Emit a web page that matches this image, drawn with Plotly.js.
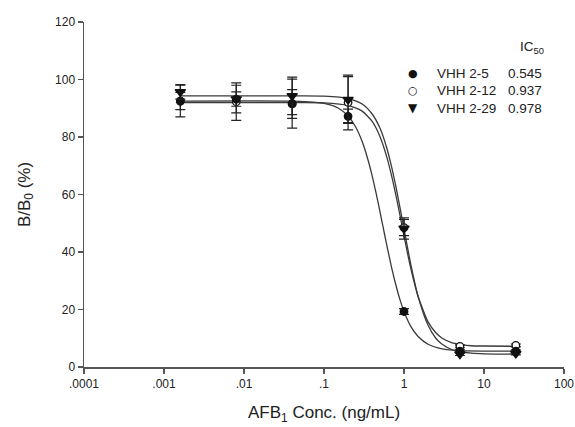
<!DOCTYPE html>
<html>
<head>
<meta charset="utf-8">
<script src="https://cdn.plot.ly/plotly-3.0.1.min.js"></script>
<style>html,body{margin:0;padding:0;background:#fff;}#chart{width:575px;height:427px;}</style>
</head>
<body>
<div id="chart"></div>
<script>
// ---- data ----
const conc = [0.0016, 0.008, 0.04, 0.2, 1, 5, 25];

const vhh25 = [92.5, 93.2, 91.5, 87.2, 19.3, 5.5, 5.5];
const vhh25Err = [3.0, 2.5, 5.0, 2.5, 1.0, 0.5, 0.5];

const vhh212 = [92.5, 92.3, 91.6, 92.0, 48.5, 7.2, 7.5];
const vhh212Err = [5.5, 6.5, 8.5, 9.5, 2.8, 0.5, 0.5];

const vhh229 = [95.7, 93.2, 94.3, 93.0, 48.2, 4.5, 4.7];
const vhh229Err = [2.5, 4.8, 6.5, 8.0, 3.7, 0.5, 0.5];

// fitted curves
const fit25X = [0.0016, 0.05, 0.1, 0.15, 0.2, 0.25, 0.3, 0.35, 0.4, 0.45, 0.5, 0.545, 0.6, 0.7, 0.8, 0.9, 1, 1.2, 1.5, 2, 3, 5, 25];
const fit25Y = [92.5, 92.4, 91.7, 90.1, 87.3, 83.4, 78.4, 72.6, 66.5, 60.2, 54.1, 49.0, 43.3, 34.6, 28.0, 23.0, 19.3, 14.4, 10.6, 7.9, 6.3, 5.7, 5.5];

const fit212X = [0.0016, 0.05, 0.1, 0.2, 0.3, 0.4, 0.5, 0.6, 0.7, 0.8, 0.9, 1, 1.2, 1.5, 2, 2.5, 3, 4, 5, 7, 10, 25];
const fit212Y = [92.0, 92.0, 91.9, 91.0, 89.0, 85.4, 80.2, 73.7, 66.5, 59.2, 52.1, 45.6, 35.0, 24.5, 15.7, 11.9, 10.0, 8.4, 7.9, 7.4, 7.3, 7.2];

const fit229X = [0.0016, 0.05, 0.1, 0.2, 0.3, 0.4, 0.5, 0.6, 0.7, 0.8, 0.9, 1, 1.2, 1.5, 2, 2.5, 3, 4, 5, 7, 10, 25];
const fit229Y = [94.3, 94.3, 94.2, 93.4, 91.5, 88.0, 83.1, 76.8, 69.6, 62.1, 54.8, 48.0, 36.5, 24.6, 14.5, 10.0, 7.9, 6.0, 5.3, 4.8, 4.6, 4.5];

const seriesNames = ['VHH 2-5', 'VHH 2-12', 'VHH 2-29'];
const ic50Values = ['0.545', '0.937', '0.978'];

const xTickVals = [0.0001, 0.001, 0.01, 0.1, 1, 10, 100];
const xTickText = ['.0001', '.001', '.01', '.1', '1', '10', '100'];
const yTickVals = [0, 20, 40, 60, 80, 100, 120];

const xTitle = 'AFB<sub>1</sub> Conc. (ng/mL)';
const yTitle = 'B/B<sub>0</sub> (%)';

// ---- styling ----
const FONT = 'Liberation Sans, Arial, Helvetica, sans-serif';
const AXC = '#555555';
const LINEC = '#3a3a3a';

function curve(x, y) {
  return {x: x, y: y, type: 'scatter', mode: 'lines', line: {color: LINEC, width: 1.3, shape: 'spline', smoothing: 0.6},
          hoverinfo: 'skip', showlegend: false};
}
function pts(y, err, symbol, fill) {
  return {x: conc, y: y, type: 'scatter', mode: 'markers', showlegend: false, hoverinfo: 'skip',
          marker: {symbol: symbol, size: symbol === 'triangle-down' ? 9 : 7.5, color: fill, line: {color: '#111', width: 1.3}},
          error_y: {type: 'data', array: err, visible: true, color: '#222', thickness: 1.2, width: 5}};
}

const data = [
  curve(fit25X, fit25Y),
  curve(fit212X, fit212Y),
  curve(fit229X, fit229Y),
  pts(vhh212, vhh212Err, 'circle', '#ffffff'),
  pts(vhh25, vhh25Err, 'circle', '#111111'),
  pts(vhh229, vhh229Err, 'triangle-down', '#111111')
];

// legend as text rows (pixel positions converted to paper coords)
const L = 84, R = 564, T = 22, B = 367;
const px = v => (v - L) / (R - L);
const py = v => (B - v) / (B - T);
const rowY = [73.5, 91, 108.5];
const glyphs = ['\u25CF', '\u25CB', '\u25BC'];
const glyphSize = [11, 11, 12];
const annotations = [];
seriesNames.forEach((n, i) => {
  annotations.push({xref: 'paper', yref: 'paper', x: px(413), y: py(rowY[i]), text: glyphs[i], showarrow: false,
    xanchor: 'center', yanchor: 'middle', font: {family: 'DejaVu Sans', size: glyphSize[i], color: '#111'}});
  annotations.push({xref: 'paper', yref: 'paper', x: px(435), y: py(rowY[i]), text: n, showarrow: false,
    xanchor: 'left', yanchor: 'middle', font: {family: FONT, size: 13.5, color: '#222'}});
  annotations.push({xref: 'paper', yref: 'paper', x: px(544), y: py(rowY[i]), text: ic50Values[i], showarrow: false,
    xanchor: 'right', yanchor: 'middle', font: {family: FONT, size: 13.5, color: '#222'}});
});
annotations.push({xref: 'paper', yref: 'paper', x: px(546), y: py(47), text: 'IC<sub>50</sub>', showarrow: false,
  xanchor: 'right', yanchor: 'middle', font: {family: FONT, size: 13.5, color: '#222'}});
// x-axis title placed below the tick labels
annotations.push({xref: 'paper', yref: 'paper', x: 0.5, y: py(426), text: xTitle, showarrow: false,
  xanchor: 'center', yanchor: 'bottom', borderpad: 0, font: {family: FONT, size: 17, color: '#222'}});

const layout = {
  width: 575, height: 427,
  margin: {l: L, r: 575 - R, t: T, b: 427 - B},
  paper_bgcolor: '#ffffff', plot_bgcolor: '#ffffff',
  showlegend: false,
  font: {family: FONT, color: '#222'},
  xaxis: {
    type: 'log', range: [-4, 2], tickvals: xTickVals, ticktext: xTickText,
    ticks: 'outside', ticklen: 5, tickwidth: 1.5, tickcolor: AXC,
    showline: true, linecolor: AXC, linewidth: 1.5, showgrid: false, zeroline: false,
    tickfont: {family: FONT, size: 12, color: '#222'}
  },
  yaxis: {
    range: [0, 120], tickvals: yTickVals,
    ticks: 'outside', ticklen: 5, tickwidth: 1.5, tickcolor: AXC,
    showline: true, linecolor: AXC, linewidth: 1.5, showgrid: false, zeroline: false,
    tickfont: {family: FONT, size: 12, color: '#222'},
    title: {text: yTitle, font: {family: FONT, size: 17, color: '#222'}, standoff: 20}
  },
  annotations: annotations
};

Plotly.newPlot('chart', data, layout, {staticPlot: true, displayModeBar: false});
</script>
</body>
</html>
